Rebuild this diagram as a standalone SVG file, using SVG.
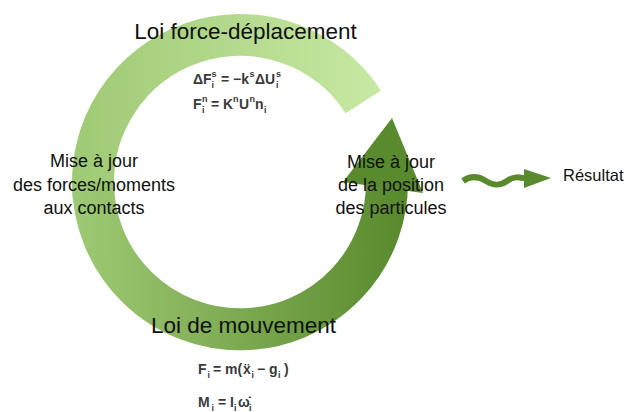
<svg xmlns="http://www.w3.org/2000/svg" width="626" height="412" viewBox="0 0 626 412">
<defs>
<linearGradient id="gTop" gradientUnits="userSpaceOnUse" x1="385" y1="0" x2="75" y2="0">
<stop offset="0" stop-color="#c8e9a4"/>
<stop offset="1" stop-color="#9fca75"/>
</linearGradient>
<linearGradient id="gBottom" gradientUnits="userSpaceOnUse" x1="75" y1="0" x2="400" y2="0">
<stop offset="0" stop-color="#9fca75"/>
<stop offset="1" stop-color="#5a8a2e"/>
</linearGradient>
</defs>
<style>
.lbl{font-family:"Liberation Sans",Arial,sans-serif;fill:#111;text-anchor:middle}
.big{font-size:22.5px}
.mid{font-size:18px}
.f{font-family:"Liberation Sans","DejaVu Sans",sans-serif;font-weight:bold;fill:#3a3a3a;font-size:14px}
.s{font-family:"Liberation Sans",Arial,sans-serif;font-weight:bold;fill:#3a3a3a;font-size:9px}
</style>
<g id="cycle">
<path d="M363.3,101.9 A147,147 0 0 0 93.6,194.8" fill="none" stroke="url(#gTop)" stroke-width="42"/>
<path d="M93,182 A147,147 0 1 0 386.9,176.9" fill="none" stroke="url(#gBottom)" stroke-width="42"/>
<polygon points="392,118 423,193 343,182" fill="#5a8a2e"/>
</g>
<g id="connectors">
<path d="M463,181 C470,176 478,176 486,181 S500,186 507,181 S519,177 527,179" fill="none" stroke="#5a8a2e" stroke-width="6"/>
<polygon points="524,169 551,178 524,188" fill="#5a8a2e"/>
</g>
<g id="loi-force-deplacement">
<text class="lbl big" x="245.5" y="39">Loi force-déplacement</text>
<text class="f" x="193" y="84">ΔF</text>
<text class="s" x="211.5" y="88">i</text>
<text class="s" x="211.5" y="77">s</text>
<text class="f" x="221" y="84">= −k</text>
<text class="s" x="249.5" y="77">s</text>
<text class="f" x="255" y="84">ΔU</text>
<text class="s" x="276" y="88">i</text>
<text class="s" x="276" y="77">s</text>
<text class="f" x="193" y="109">F</text>
<text class="s" x="202" y="113">i</text>
<text class="s" x="202" y="102">n</text>
<text class="f" x="211" y="109">= K</text>
<text class="s" x="233" y="102">n</text>
<text class="f" x="239" y="109">U</text>
<text class="s" x="249.5" y="102">n</text>
<text class="f" x="255" y="109">n</text>
<text class="s" x="264" y="113">i</text>
</g>
<g id="maj-forces">
<text class="lbl mid" x="94" y="167">Mise à jour</text>
<text class="lbl mid" x="94" y="190.5">des forces/moments</text>
<text class="lbl mid" x="94" y="214">aux contacts</text>
</g>
<g id="maj-position">
<text class="lbl mid" x="391" y="168">Mise à jour</text>
<text class="lbl mid" x="391" y="191">de la position</text>
<text class="lbl mid" x="391" y="214">des particules</text>
</g>
<g id="loi-mouvement">
<text class="lbl big" x="243.5" y="333">Loi de mouvement</text>
<text class="f" x="198" y="374">F</text>
<text class="s" x="207.5" y="378">i</text>
<text class="f" x="213" y="374">= m(</text>
<text class="f" x="243" y="374">ẍ</text>
<text class="s" x="251.5" y="378">i</text>
<text class="f" x="257" y="374">− g</text>
<text class="s" x="278" y="378">i</text>
<text class="f" x="284" y="374">)</text>
<text class="f" x="198" y="407">M</text>
<text class="s" x="211.5" y="411">i</text>
<text class="f" x="218" y="407">= I</text>
<text class="s" x="234" y="411">i</text>
<text class="f" x="238" y="407">ω̇</text>
<text class="s" x="249" y="411">i</text>
</g>
<g id="resultat">
<text class="lbl mid" style="text-anchor:start;font-size:16.5px" x="563" y="181">Résultat</text>
</g>
</svg>
